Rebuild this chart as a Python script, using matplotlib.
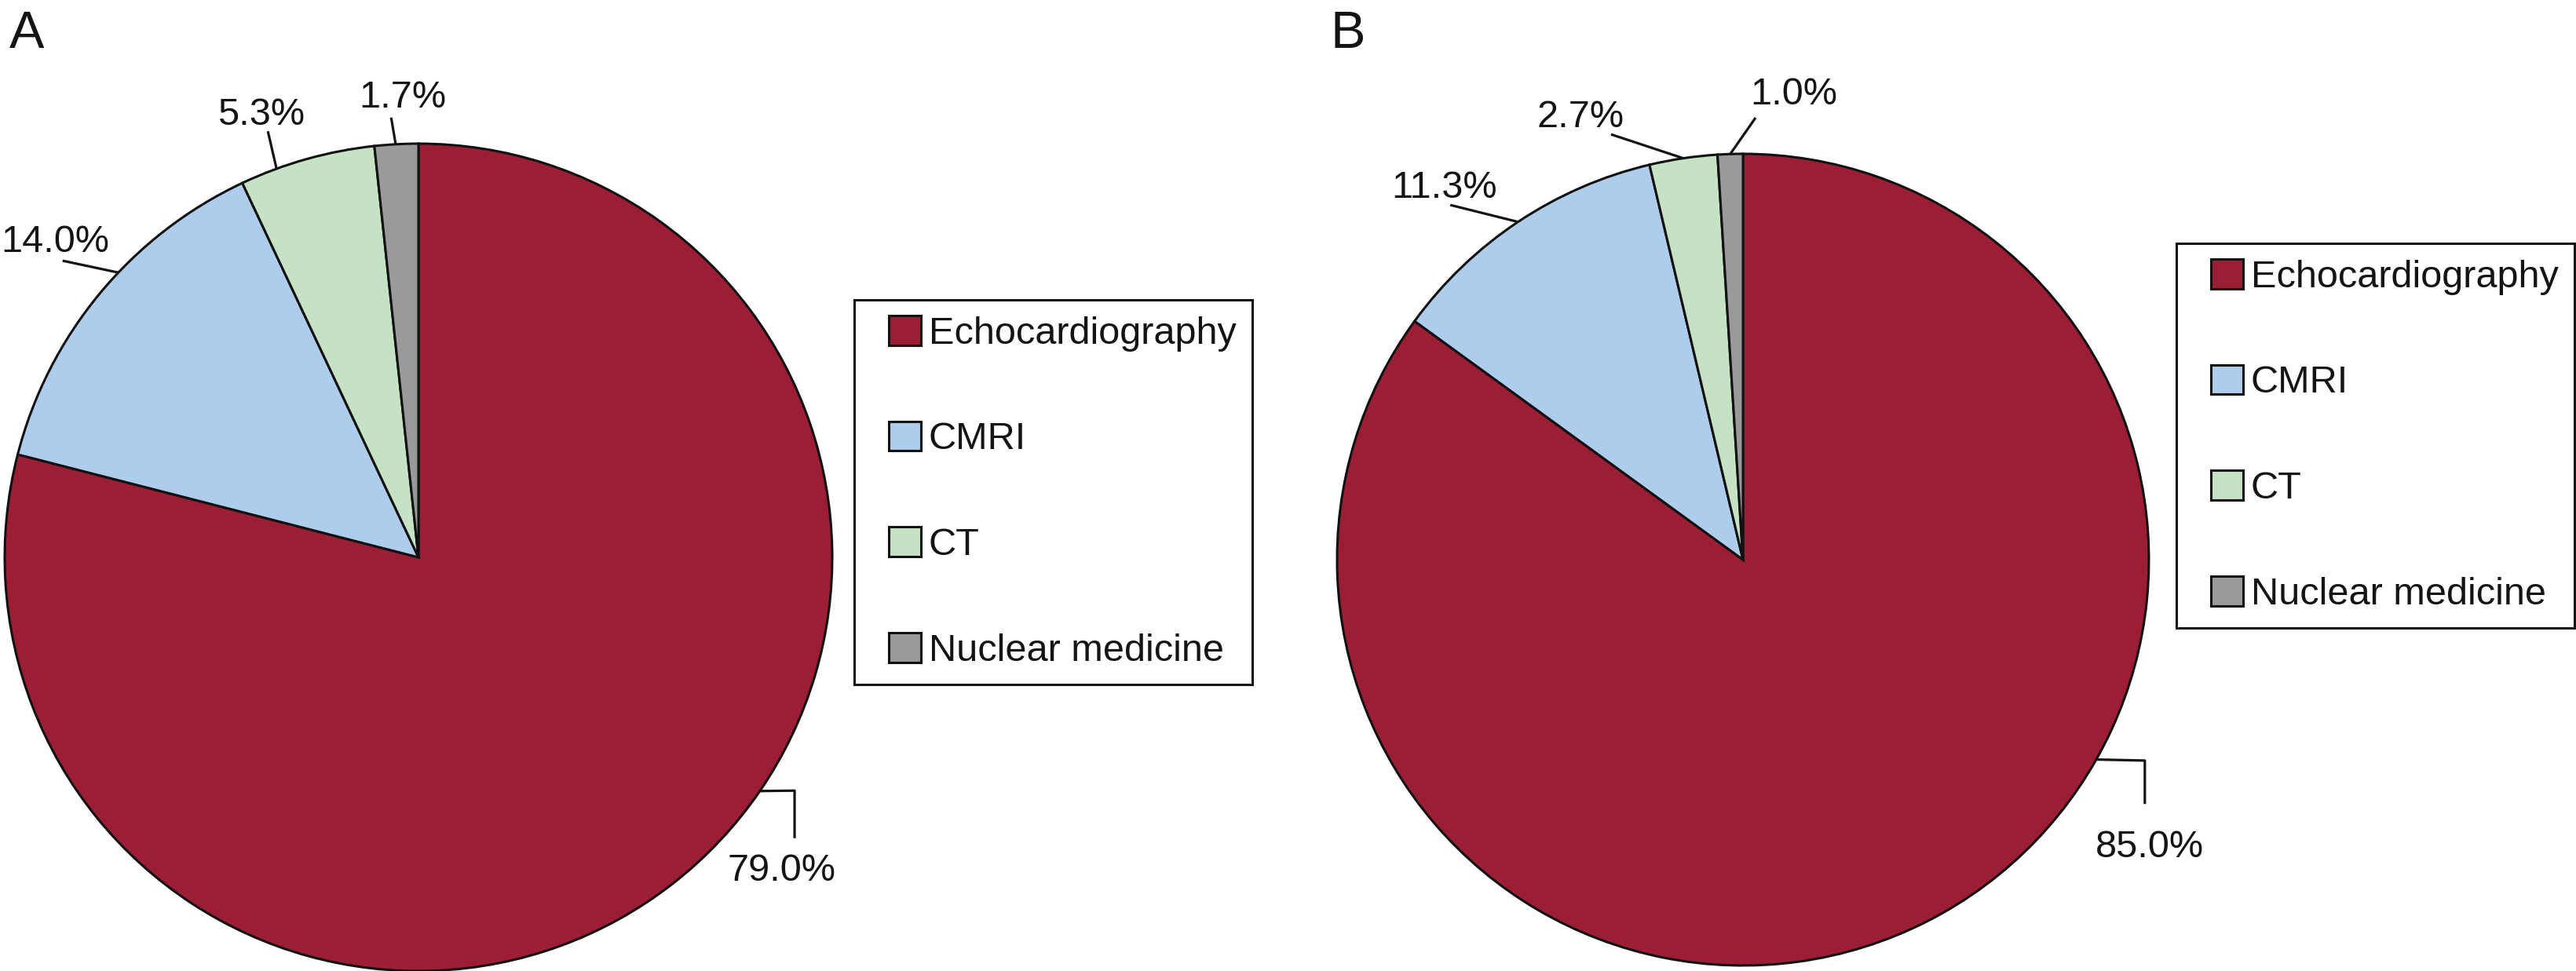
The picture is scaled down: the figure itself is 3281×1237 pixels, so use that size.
import numpy as np
import matplotlib as mpl
mpl.use("Agg")
import matplotlib.pyplot as plt
import matplotlib.patches as mpatches
from matplotlib.legend_handler import HandlerPatch

plt.rcParams["font.family"] = ["Liberation Sans", "DejaVu Sans"]

# data
categories = ["Echocardiography", "CMRI", "CT", "Nuclear medicine"]
share_a = [79.0, 14.0, 5.3, 1.7]
share_b = [85.0, 11.3, 2.7, 1.0]

colours = ["#9b1e35", "#aecded", "#c6e2c4", "#999a9c"]
edge = "#111111"
ink = "#141414"

W, H = 3281, 1237
fig = plt.figure(figsize=(W / 100, H / 100), dpi=100)

# layout: pixel positions of each pie, legend corner, and label leaders in pie units
panels = [
    dict(values=share_a, name="A", centre=(533, 710), radius=527,
         letter=(12, 61), legend=(1088, 382),
         nudge=[17.8, -3.9, 4.4, 0.1],
         leaders=[[(0.909, -0.564), (0.909, -0.679)], [(-0.860, 0.717)],
                  [(-0.364, 1.030)], [(-0.066, 1.063)]],
         text=[(0.877, -0.782), (-0.879, 0.738), (-0.381, 1.046), (-0.038, 1.087)]),
    dict(values=share_b, name="B", centre=(2220, 713), radius=517,
         letter=(1695, 61), legend=(2772, 310),
         nudge=[33.5, 0.0, 0.0, 0.0],
         leaders=[[(0.990, -0.495), (0.990, -0.602)], [(-0.721, 0.874)],
                  [(-0.325, 1.048)], [(0.031, 1.089)]],
         text=[(1.002, -0.733), (-0.735, 0.892), (-0.400, 1.066), (0.126, 1.122)]),
]


def square_swatch(legend, orig_handle, xdescent, ydescent, width, height, fontsize):
    side = 0.84 * fontsize
    return mpatches.Rectangle((width - xdescent - side, -ydescent), side, height)


span = 1.3
for p in panels:
    cx, cy = p["centre"]
    r = p["radius"]
    cy_up = H - cy
    ax = fig.add_axes([(cx - span * r) / W, (cy_up - span * r) / H,
                       2 * span * r / W, 2 * span * r / H])
    wedges, _ = ax.pie(p["values"], colors=colours, startangle=90, counterclock=False,
                       wedgeprops=dict(edgecolor=edge, linewidth=2.2))
    ax.set_xlim(-span, span)
    ax.set_ylim(-span, span)
    ax.set_aspect("auto")
    ax.axis("off")

    for w, v, dn, path, (tx, ty) in zip(wedges, p["values"], p["nudge"], p["leaders"], p["text"]):
        ang = np.deg2rad((w.theta1 + w.theta2) / 2 + dn)
        xs = [np.cos(ang)] + [q[0] for q in path]
        ys = [np.sin(ang)] + [q[1] for q in path]
        ax.plot(xs, ys, color=ink, lw=2.3, solid_capstyle="butt", clip_on=False)
        ax.text(tx, ty, f"{v:.1f}%", ha="center", va="baseline", fontsize=35,
                color=ink, clip_on=False)

    fig.text(p["letter"][0] / W, 1 - p["letter"][1] / H, p["name"], fontsize=48,
             color=ink, ha="left", va="baseline")

    leg = fig.legend(wedges, categories, loc="upper left",
                     bbox_to_anchor=(p["legend"][0] / W, 1 - p["legend"][1] / H),
                     borderaxespad=0, fontsize=35, frameon=True, fancybox=False,
                     framealpha=1, edgecolor=edge, borderpad=0.41, labelspacing=1.83,
                     handlelength=1.34, handleheight=0.82, handletextpad=0.2,
                     handler_map={mpatches.Wedge: HandlerPatch(patch_func=square_swatch)})
    leg.get_frame().set_linewidth(2.2)
    for t in leg.get_texts():
        t.set_color(ink)

fig.savefig("out.png", dpi=100)
